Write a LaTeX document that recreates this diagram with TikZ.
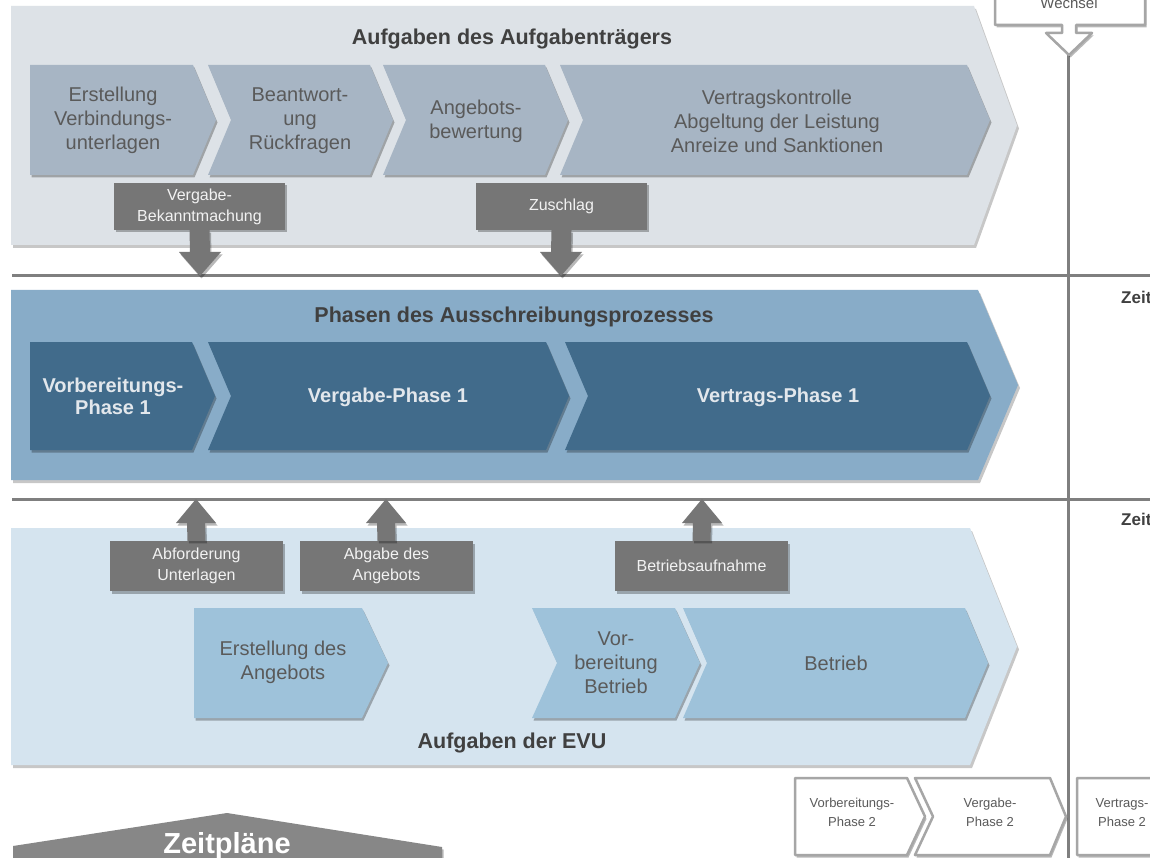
\documentclass[tikz,border=0pt]{standalone}
\usepackage{fontspec}
\setmainfont{Liberation Sans}
\usetikzlibrary{shadows,calc}
\definecolor{topbg}{HTML}{DDE2E7}
\definecolor{topch}{HTML}{A7B5C4}
\definecolor{midbg}{HTML}{88ACC8}
\definecolor{midch}{HTML}{416B8B}
\definecolor{midtx}{HTML}{E2E7EC}
\definecolor{botbg}{HTML}{D5E4EF}
\definecolor{botch}{HTML}{9EC2DA}
\definecolor{callg}{HTML}{767676}
\definecolor{lineg}{HTML}{7F7F7F}
\definecolor{txtg}{HTML}{5A5A5A}
\definecolor{ttlg}{HTML}{404040}
\definecolor{outg}{HTML}{A6A6A6}
\definecolor{zeitg}{HTML}{878787}
\newcommand{\mkchev}[7]{\path[#1] (#2,#4) -- (#3,#4) -- ({#3+#6},{(#4+#5)/2}) -- (#3,#5) -- (#2,#5) -- ({#2+#7},{(#4+#5)/2}) -- cycle;}
\newcommand{\blkdown}[2]{\fill[callg,shd] ($(#1.south)+(-10,0)$) -- ($(#2)+(-10,-24)$) -- ($(#2)+(-21,-24)$) -- (#2) -- ($(#2)+(21,-24)$) -- ($(#2)+(10,-24)$) -- ($(#1.south)+(10,0)$) -- cycle;}
\newcommand{\blkup}[2]{\fill[callg,shd] ($(#1.north)+(-9,0)$) -- ($(#2)+(-9,24)$) -- ($(#2)+(-20,24)$) -- (#2) -- ($(#2)+(20,24)$) -- ($(#2)+(9,24)$) -- ($(#1.north)+(9,0)$) -- cycle;}
\begin{document}
\begin{tikzpicture}[x=1pt,y=-1pt,
 shd/.style={drop shadow={shadow xshift=1.5pt,shadow yshift=-2.5pt,opacity=0.28,fill=black}},
 bigshd/.style={drop shadow={shadow xshift=2pt,shadow yshift=-3pt,opacity=0.22,fill=black}},
 tch/.style={fill=topch,shd},
 mch/.style={fill=midch,shd},
 bch/.style={fill=botch,shd},
 chtxt/.style={inner sep=0pt,align=center,text=txtg,font=\fontsize{20}{24}\selectfont},
 midtxt/.style={inner sep=0pt,align=center,text=midtx,font=\bfseries\fontsize{20}{22}\selectfont},
 titlet/.style={inner sep=0pt,text=ttlg,font=\bfseries\fontsize{21.5}{26}\selectfont},
 callbox/.style={fill=callg,text=white!95!black,inner sep=0pt,align=center,minimum width=171pt,minimum height=48pt,font=\fontsize{16}{21}\selectfont,shd},
 sepline/.style={draw=lineg,line width=3pt},
 phase2/.style={fill=white,draw=outg,line width=2.5pt,line join=round,shd},
 phase2txt/.style={inner sep=0pt,align=center,text=txtg,font=\fontsize{13}{19}\selectfont},
 zeitl/.style={inner sep=0pt,anchor=west,text=ttlg,font=\bfseries\fontsize{17}{20}\selectfont}
]
\fill[white] (0,0) rectangle (1150,858);
\useasboundingbox (0,0) rectangle (1150,858);

% separator lines
\draw[sepline] (12,276) -- (1150,276);
\draw[sepline] (12,499) -- (1150,499);
\draw[sepline] (1068,55) -- (1068,870);

% ---------- top section ----------
\path[fill=topbg,bigshd] (11,6) -- (974,6) -- (1017,125.5) -- (974,245) -- (11,245) -- cycle;
\node[titlet] (ttop) at (512,39) {Aufgaben des Aufgabenträgers};
\mkchev{tch}{30}{193}{65}{175}{23}{0}
\mkchev{tch}{208}{370}{65}{175}{23}{23}
\mkchev{tch}{383}{545}{65}{175}{23}{23}
\mkchev{tch}{560}{967}{65}{175}{23}{23}
\node[chtxt] (t1) at (113,120.5) {Erstellung\\Verbindungs-\\unterlagen};
\node[chtxt] (t2) at (300,120.5) {Beantwort-\\ung\\Rückfragen};
\node[chtxt] (t3) at (476,121) {Angebots-\\bewertung};
\node[chtxt] (t4) at (777,121) {Vertragskontrolle\\Abgeltung der Leistung\\Anreize und Sanktionen};
\node[callbox,minimum height=47pt] (vb) at (199.5,206.5) {Vergabe-\\Bekanntmachung};
\node[callbox,minimum height=47pt] (zs) at (561.5,206.5) {Zuschlag};
\coordinate (vbt) at (200,276);
\coordinate (zst) at (561,276);
\blkdown{vb}{vbt}
\blkdown{zs}{zst}

% ---------- middle section ----------
\path[fill=midbg,bigshd] (11,290) -- (978,290) -- (1018,385) -- (978,480) -- (11,480) -- cycle;
\node[titlet] (tmid) at (514,317) {Phasen des Ausschreibungsprozesses};
\mkchev{mch}{30}{192}{342}{450}{23}{0}
\mkchev{mch}{208}{546}{342}{450}{23}{23}
\mkchev{mch}{565}{967}{342}{450}{23}{23}
\node[midtxt] (m1) at (113,396.5) {Vorbereitungs-\\Phase 1};
\node[midtxt] (m2) at (388,397) {Vergabe-Phase 1};
\node[midtxt] (m3) at (778,397) {Vertrags-Phase 1};

% ---------- bottom section ----------
\path[fill=botbg,bigshd] (11,528) -- (970,528) -- (1017,646.5) -- (970,765) -- (11,765) -- cycle;
\node[callbox,minimum width=173pt,minimum height=50pt] (ab) at (196.5,566) {Abforderung\\Unterlagen};
\node[callbox,minimum width=173pt,minimum height=50pt] (ag) at (386.5,566) {Abgabe des\\Angebots};
\node[callbox,minimum width=173pt,minimum height=50pt] (ba) at (701.5,566) {Betriebsaufnahme};
\coordinate (abt) at (196,499);
\coordinate (agt) at (386,499);
\coordinate (bat) at (702,499);
\blkup{ab}{abt}
\blkup{ag}{agt}
\blkup{ba}{bat}
\mkchev{bch}{194}{362}{608}{718}{26}{0}
\mkchev{bch}{532}{675}{608}{718}{25}{25}
\mkchev{bch}{683}{965}{608}{718}{23}{24}
\node[chtxt] (b1) at (283,662) {Erstellung des\\Angebots};
\node[chtxt] (b2) at (616,663) {Vor-\\bereitung\\Betrieb};
\node[chtxt] (b3) at (836,663) {Betrieb};
\node[titlet] (tbot) at (512,743) {Aufgaben der EVU};

% ---------- right side ----------
\path[phase2] (995,-20) -- (1145,-20) -- (1145,25) -- (1076,25) -- (1076,33) -- (1092,33) -- (1069,55) -- (1046,33) -- (1062,33) -- (1062,25) -- (995,25) -- cycle;
\node[phase2txt,font=\fontsize{15}{18}\selectfont,anchor=base] (wx) at (1069,9) {Wechsel};
\node[zeitl] (z1) at (1121,297) {Zeit};
\node[zeitl] (z2) at (1121,519) {Zeit};

% phase 2 chevrons
\mkchev{phase2}{795}{907}{778}{855}{18}{0}
\mkchev{phase2}{915}{1050}{778}{855}{16}{18}
\mkchev{phase2}{1077}{1175}{778}{855}{16}{0}
\node[phase2txt] (p1) at (852,812.5) {Vorbereitungs-\\Phase 2};
\node[phase2txt] (p2) at (990,812.5) {Vergabe-\\Phase 2};
\node[phase2txt] (p3) at (1122,812.5) {Vertrags-\\Phase 2};

% Zeitplaene
\path[fill=zeitg,shd] (13,846) -- (227,813) -- (442,847) -- (442,880) -- (13,880) -- cycle;
\node[inner sep=0pt,anchor=base,text=white,font=\bfseries\fontsize{29}{32}\selectfont] (zp) at (227,853) {Zeitpläne};
\end{tikzpicture}
\end{document}
